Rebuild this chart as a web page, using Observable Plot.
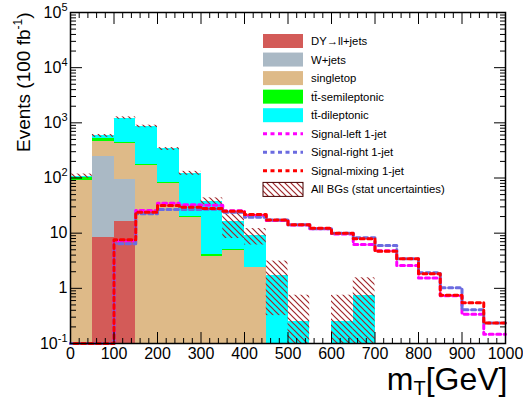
<!DOCTYPE html>
<html><head><meta charset="utf-8">
<script src="https://cdn.jsdelivr.net/npm/d3@7"></script>
<script src="https://cdn.jsdelivr.net/npm/@observablehq/plot@0.6"></script>
<style>
body{margin:0;background:#fff}
#chart{position:relative;width:523px;height:400px}
</style>
</head><body><div id="chart"></div>
<script>
// ---- data (bins of 50 GeV) ----
const binLow = [0,50,100,150,200,250,300,350,400,450,500,550,600,650,700,750,800,850,900,950];
const binWidth = 50;
const seriesNames  = ["DY→ll+jets","W+jets","singletop","tt̄-semileptonic","tt̄-dileptonic"];
const seriesColors = ["#d35b58","#aab9c5","#deba88","#00ff00","#00ffff"];
const dyJets    = [0, 8.3, 16.3, 0, 0, 0, 0, 0, 0, 0, 0, 0, 0, 0, 0, 0, 0, 0, 0, 0];
const wJets     = [0, 236, 76, 0, 0, 0, 0, 0, 0, 0, 0, 0, 0, 0, 0, 0, 0, 0, 0, 0];
const singleTop = [90, 217, 322, 168, 78, 19.5, 3.7, 4.9, 2.4, 0, 0, 0, 0, 0, 0, 0, 0, 0, 0, 0];
const ttSemi    = [13, 49, 28, 7, 3.5, 0.4, 0.4, 0.1, 0, 0, 0, 0, 0, 0, 0, 0, 0, 0, 0, 0];
const ttDi      = [5, 70, 780, 686, 254, 102, 34, 11, 6.7, 1.72, 0.25, 0, 0.25, 0.75, 0, 0, 0, 0, 0, 0];
const bgStatErr = [10, 35, 60, 45, 20, 10, 5.5, 8, 3, 1.4, 0.5, 0, 0.5, 0.8, 0, 0, 0, 0, 0, 0];
const sigLeft   = [0, 0, 7.2, 25.7, 34.9, 32.7, 32, 25.5, 21, 17, 14, 12, 9.7, 6.2, 4.8, 2.6, 1.54, 0.73, 0.34, 0.147];
const sigRight  = [0, 0, 6.4, 22.5, 26.9, 26.9, 27, 24, 19.5, 17.4, 14.2, 12, 10, 8.3, 6.0, 3.45, 1.92, 1.03, 0.41, 0.236];
const sigMixing = [0, 0, 7.6, 24, 31.7, 29.5, 28, 25, 21.8, 17.4, 14.2, 12.3, 10, 7.9, 4.7, 3.45, 1.84, 0.75, 0.55, 0.236];
const signalNames  = ["Signal-left 1-jet","Signal-right 1-jet","Signal-mixing 1-jet"];
const signalColors = ["#ff00ff","#6b6be0","#ff0000"];
const errName = "All BGs (stat uncertainties)";
const xMajor = [0,100,200,300,400,500,600,700,800,900,1000];
const xTickLabels = ["0","100","200","300","400","500","600","700","800","900","1000"];
const yMajor = [0.1,1,10,100,1000,10000,100000];
const yTickLabels = ["10^-1","1","10","10^2","10^3","10^4","10^5"];
const yTitle = "Events (100 fb^-1)";
const xTitle = "m_T[GeV]";
const yMin = 0.1;

// ---- derived tables ----
const seriesValues = [dyJets, wJets, singleTop, ttSemi, ttDi];
const stackRects = [];
const totals = [];
binLow.forEach((x0, i) => {
  let base = 0;
  seriesValues.forEach((vals, s) => {
    const v = vals[i];
    const top = base + v;
    if (v > 0 && top > yMin) stackRects.push({x1: x0, x2: x0 + binWidth, y1: Math.max(base, yMin), y2: top, name: seriesNames[s]});
    base = top;
  });
  totals.push(base);
});
const errRects = binLow.map((x0, i) => ({x1: x0, x2: x0 + binWidth, y1: Math.max(totals[i] - bgStatErr[i], yMin), y2: totals[i] + bgStatErr[i], t: totals[i]})).filter(d => d.t > 0);
const stepPoints = vals => binLow.map((x, i) => ({x, y: Math.max(vals[i], yMin)})).concat([{x: binLow[binLow.length-1] + binWidth, y: Math.max(vals[vals.length-1], yMin)}]);
const yMinor = [];
for (let e = -1; e < 5; e++) for (let m = 2; m <= 9; m++) yMinor.push(m * Math.pow(10, e));
const xMinor = [];
for (let x = 0; x <= 1000; x += 20) if (x % 100) xMinor.push(x);

const font = "'Liberation Sans', Arial, Helvetica, sans-serif";
const sigData = [sigLeft, sigRight, sigMixing];

const plot = Plot.plot({
  width: 523, height: 400,
  marginLeft: 70, marginRight: 18, marginTop: 12, marginBottom: 57,
  style: {fontFamily: font, background: "white", overflow: "visible", color: "black"},
  x: {domain: [0, 1000], label: null},
  y: {type: "log", domain: [0.1, 1e5], label: null},
  color: {domain: seriesNames, range: seriesColors},
  marks: [
    Plot.rect(stackRects, {x1: "x1", x2: "x2", y1: "y1", y2: "y2", fill: "name", shapeRendering: "crispEdges"}),
    Plot.rect(errRects, {x1: "x1", x2: "x2", y1: "y1", y2: "y2", fill: "url(#bgHatch)"}),
    ...sigData.map((vals, k) => Plot.line(stepPoints(vals), {x: "x", y: "y", curve: "step-after", stroke: signalColors[k], strokeWidth: 3, strokeDasharray: "4,3.5", strokeDashoffset: k * 2})),
    // ticks on all four sides (inward)
    Plot.axisX({anchor: "bottom", ticks: xMajor, tickSize: -11, tickFormat: () => "", label: null}),
    Plot.axisX({anchor: "bottom", ticks: xMinor, tickSize: -5, tickFormat: () => "", label: null}),
    Plot.axisX({anchor: "top", ticks: xMajor, tickSize: -11, tickFormat: () => "", label: null}),
    Plot.axisX({anchor: "top", ticks: xMinor, tickSize: -5, tickFormat: () => "", label: null}),
    Plot.axisY({anchor: "left", ticks: yMajor, tickSize: -12, tickFormat: () => "", label: null}),
    Plot.axisY({anchor: "left", ticks: yMinor, tickSize: -6, tickFormat: () => "", label: null}),
    Plot.axisY({anchor: "right", ticks: yMajor, tickSize: -12, tickFormat: () => "", label: null}),
    Plot.axisY({anchor: "right", ticks: yMinor, tickSize: -6, tickFormat: () => "", label: null}),
    // tick labels
    Plot.axisX({anchor: "bottom", ticks: xMajor, tickSize: 0, tickPadding: 4, fontSize: 16, tickFormat: d => xTickLabels[xMajor.indexOf(d)], label: null}),
    Plot.text(yMajor, {y: d => d, text: (d, i) => yTickLabels[i], frameAnchor: "left", textAnchor: "end", lineAnchor: "middle", dx: -3, fontSize: 16}),
    // axis titles
    Plot.text([yTitle], {text: d => d, frameAnchor: "top-left", dx: -41, rotate: -90, textAnchor: "end", lineAnchor: "bottom", fontSize: 19}),
    Plot.text([xTitle], {text: d => d, frameAnchor: "bottom-right", dx: 2, dy: 36, textAnchor: "end", lineAnchor: "middle", fontSize: 32}),
    Plot.frame({stroke: "black", strokeWidth: 1.5})
  ]
});

const svg = d3.select(plot);
// hatch pattern
const defs = svg.insert("defs", ":first-child");
const pat = defs.append("pattern").attr("id", "bgHatch").attr("patternUnits", "userSpaceOnUse").attr("width", 6).attr("height", 6);
pat.append("path").attr("d", "M-1,-1L7,7M-1,5L1,7M5,-1L7,1").attr("stroke", "#a0262a").attr("stroke-width", 1.2).attr("fill", "none");

// superscripts / subscripts (match text elements by content)
svg.selectAll("text").each(function() {
  const s = this.textContent;
  const t = d3.select(this);
  if (s === yTitle) {
    t.text(null);
    t.append("tspan").text("Events (100 fb");
    t.append("tspan").attr("font-size", 12).attr("dy", -8).text("-1");
    t.append("tspan").attr("font-size", 19).attr("dy", 8).text(")");
  } else if (s === xTitle) {
    t.text(null);
    t.append("tspan").text("m");
    t.append("tspan").attr("font-size", 20).attr("dy", 5).text("T");
    t.append("tspan").attr("font-size", 32).attr("dy", -5).text("[GeV]");
  } else if (yTickLabels.includes(s) && s.includes("^")) {
    const [b, e] = s.split("^");
    t.text(null);
    t.append("tspan").text(b);
    t.append("tspan").attr("font-size", 11).attr("dy", -7).text(e);
  }
});

// legend
const legend = svg.append("g").attr("font-family", font).attr("font-size", 11.3).attr("text-anchor", "start");
const rowY0 = 41, rowStep = 18.55, swX = 263, swW = 40, swH = 14, txtX = 311;
const entries = seriesNames.map((n, i) => ({type: "fill", name: n, color: seriesColors[i]}))
  .concat(signalNames.map((n, i) => ({type: "line", name: n, color: signalColors[i]})))
  .concat([{type: "hatch", name: errName}]);
entries.forEach((e, i) => {
  const cy = rowY0 + i * rowStep;
  if (e.type === "fill") {
    legend.append("rect").attr("x", swX).attr("y", cy - swH / 2).attr("width", swW).attr("height", swH).attr("fill", e.color);
  } else if (e.type === "line") {
    legend.append("line").attr("x1", swX).attr("x2", swX + swW).attr("y1", cy).attr("y2", cy)
      .attr("stroke", e.color).attr("stroke-width", 3).attr("stroke-dasharray", "4,3.5");
  } else {
    legend.append("rect").attr("x", swX).attr("y", cy - swH / 2).attr("width", swW).attr("height", swH)
      .attr("fill", "url(#bgHatch)").attr("stroke", "#400").attr("stroke-width", 1);
  }
  legend.append("text").attr("x", txtX).attr("y", cy).attr("dy", "0.35em").attr("text-anchor", "start").attr("fill", "black").text(e.name);
});

document.getElementById("chart").appendChild(plot);
</script>
</body></html>
